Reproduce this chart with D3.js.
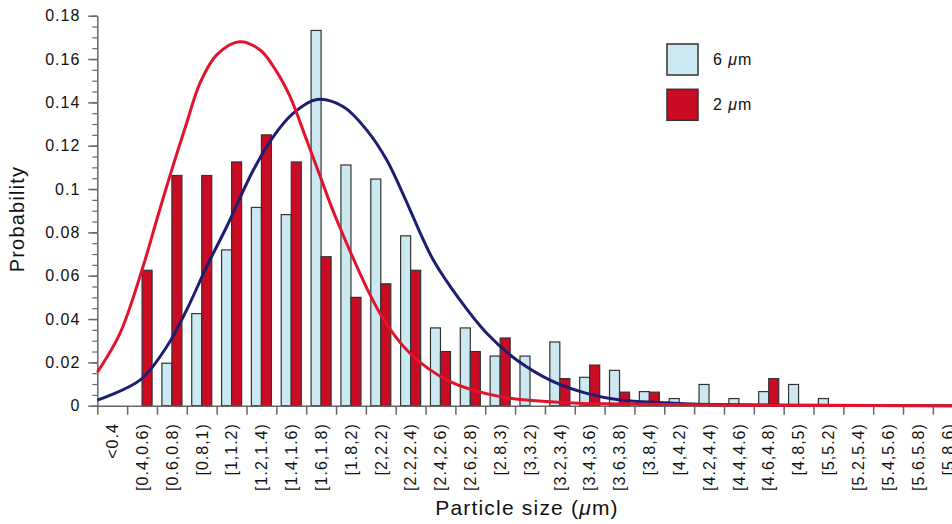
<!DOCTYPE html>
<html>
<head>
<meta charset="utf-8">
<script src="https://cdn.jsdelivr.net/npm/d3@7"></script>
<style>
  html, body { margin: 0; padding: 0; background: #fff; overflow: hidden; }
  svg { display: block; }
  text { font-family: "Liberation Sans", Arial, Helvetica, sans-serif; fill: #111; }
</style>
</head>
<body>
<svg id="chart" width="952" height="524"></svg>
<script>
// ---------------- data ----------------
const categories = ["<0.4","[0.4,0.6)","[0.6,0.8)","[0.8,1)","[1,1.2)","[1.2,1.4)","[1.4,1.6)",
  "[1.6,1.8)","[1.8,2)","[2,2.2)","[2.2,2.4)","[2.4,2.6)","[2.6,2.8)","[2.8,3)","[3,3.2)",
  "[3.2,3.4)","[3.4,3.6)","[3.6,3.8)","[3.8,4)","[4,4.2)","[4.2,4.4)","[4.4,4.6)","[4.6,4.8)",
  "[4.8,5)","[5,5.2)","[5.2,5.4)","[5.4,5.6)","[5.6,5.8)","[5.8,6)"];

const series = ["6 μm", "2 μm"];

const values6 = [0, 0, 0.0196, 0.0425, 0.0719, 0.0915, 0.0882, 0.1732, 0.1111, 0.1046, 0.0784,
  0.0359, 0.0359, 0.0229, 0.0229, 0.0294, 0.0131, 0.0163, 0.0065, 0.0033, 0.0098, 0.0033,
  0.0065, 0.0098, 0.0033, 0, 0, 0, 0];

const values2 = [0, 0.0625, 0.10625, 0.10625, 0.1125, 0.125, 0.1125, 0.06875, 0.05, 0.05625,
  0.0625, 0.025, 0.025, 0.03125, 0, 0.0125, 0.01875, 0.00625, 0.00625, 0, 0, 0, 0.0125,
  0, 0, 0, 0, 0, 0];

// fitted curves: particle size (µm) and probability
const curve6Size = [0.2, 0.486, 0.665, 0.799, 0.933, 1.067, 1.246, 1.38, 1.514, 1.671, 1.849,
  2.006, 2.14, 2.249, 2.452, 2.63, 2.81, 3.011, 3.256, 3.48, 3.704, 4.016, 4.192, 5.0, 6.0];
const curve6Prob = [0.0026, 0.0118, 0.0272, 0.0442, 0.0642, 0.0826, 0.1088, 0.1242, 0.135,
  0.1413, 0.138, 0.1272, 0.1134, 0.0977, 0.0672, 0.0488, 0.0334, 0.0211, 0.0111, 0.0057,
  0.0026, 0.0014, 0.0008, 0.0002, 0];

const curve2Size = [0.2, 0.352, 0.498, 0.598, 0.687, 0.799, 0.888, 1.0, 1.152, 1.291, 1.402,
  1.492, 1.603, 1.693, 1.805, 2.095, 2.296, 2.564, 2.9, 3.346, 3.704, 4.5, 6.0];
const curve2Prob = [0.0154, 0.0334, 0.0623, 0.0857, 0.1062, 0.1305, 0.1489, 0.1619, 0.168,
  0.1642, 0.1542, 0.1426, 0.1226, 0.106, 0.0857, 0.0426, 0.0242, 0.0111, 0.0042, 0.0014,
  0.0008, 0.0002, 0];

const yTickValues = [0, 0.02, 0.04, 0.06, 0.08, 0.1, 0.12, 0.14, 0.16, 0.18];
const yTickLabels = ["0", "0.02", "0.04", "0.06", "0.08", "0.1", "0.12", "0.14", "0.16", "0.18"];
const sizeEdges = [0.2, 0.4, 0.6, 0.8, 1.0, 1.2, 1.4, 1.6, 1.8, 2.0, 2.2, 2.4, 2.6, 2.8, 3.0,
  3.2, 3.4, 3.6, 3.8, 4.0, 4.2, 4.4, 4.6, 4.8, 5.0, 5.2, 5.4, 5.6, 5.8, 6.0];

const xTitle = "Particle size (";
const yTitle = "Probability";

// ---------------- layout ----------------
const svg = d3.select("#chart");
const plotLeft = 97.3, plotRight = 962.7, plotTop = 15.7, plotBottom = 405.7;

const colors = { fill6: "#cce9f1", fill2: "#c90b24", line6: "#1e1e70", line2: "#e2132c",
  axis: "#666", barStroke: "#333" };

const x = d3.scaleBand().domain(categories).range([plotLeft, plotRight]).paddingInner(0).paddingOuter(0);
const xs = d3.scaleLinear().domain([0.2, 6.0]).range([plotLeft, plotRight]);
const xSub = d3.scaleBand().domain(series).range([0, x.bandwidth()]).paddingInner(0).paddingOuter(0.49);
const y = d3.scaleLinear().domain([0, 0.18]).range([plotBottom, plotTop]);

// ---------------- bars ----------------
const barData = [];
categories.forEach((c, i) => {
  barData.push({ cat: c, s: series[0], v: values6[i], fill: colors.fill6 });
  barData.push({ cat: c, s: series[1], v: values2[i], fill: colors.fill2 });
});
svg.append("g").selectAll("rect")
  .data(barData.filter(d => d.v > 0))
  .join("rect")
  .attr("x", d => x(d.cat) + xSub(d.s))
  .attr("y", d => y(d.v))
  .attr("width", xSub.bandwidth())
  .attr("height", d => y(0) - y(d.v))
  .attr("fill", d => d.fill)
  .attr("stroke", colors.barStroke)
  .attr("stroke-width", 1.2);

// ---------------- axes ----------------
const yMinor = svg.append("g").attr("transform", `translate(${plotLeft},0)`)
  .call(d3.axisLeft(y).tickValues(d3.range(0, 0.1801, 0.005)).tickSize(5).tickFormat(""));
yMinor.select(".domain").remove();
yMinor.selectAll("line").attr("stroke", colors.axis).attr("stroke-width", 1.2);

const yAxis = svg.append("g").attr("transform", `translate(${plotLeft},0)`)
  .call(d3.axisLeft(y).tickValues(yTickValues).tickSize(9).tickSizeOuter(0)
    .tickFormat((d, i) => yTickLabels[i]));
yAxis.select(".domain").attr("stroke", colors.axis).attr("stroke-width", 1.5);
yAxis.selectAll(".tick line").attr("stroke", colors.axis).attr("stroke-width", 1.5);
yAxis.selectAll(".tick text").attr("x", -17).attr("font-size", 16)
  .attr("letter-spacing", "1px").attr("fill", "#111")
  .style("font-family", '"Liberation Sans", Arial, sans-serif');

const xAxis = svg.append("g").attr("transform", `translate(0,${plotBottom})`)
  .call(d3.axisBottom(xs).tickValues(sizeEdges).tickSize(9).tickSizeOuter(0).tickFormat(""));
xAxis.select(".domain").attr("stroke", colors.axis).attr("stroke-width", 1.5);
xAxis.selectAll(".tick line").attr("stroke", colors.axis).attr("stroke-width", 1.5);

const xLab = svg.append("g").attr("transform", `translate(0,${plotBottom})`)
  .call(d3.axisBottom(x).tickSize(0).tickSizeOuter(0));
xLab.select(".domain").remove();
xLab.selectAll(".tick text")
  .attr("transform", "rotate(-90)")
  .attr("text-anchor", "end")
  .attr("x", -17.5).attr("y", 0).attr("dy", "0.36em")
  .attr("font-size", 16).attr("letter-spacing", "1px").attr("fill", "#111")
  .style("font-family", '"Liberation Sans", Arial, sans-serif');

// ---------------- curves ----------------
const line = d3.line().x(d => xs(d[0])).y(d => y(d[1])).curve(d3.curveCatmullRom.alpha(0.5));
svg.append("path")
  .attr("d", line(curve6Size.map((s, i) => [s, curve6Prob[i]])))
  .attr("fill", "none").attr("stroke", colors.line6).attr("stroke-width", 3);
svg.append("path")
  .attr("d", line(curve2Size.map((s, i) => [s, curve2Prob[i]])))
  .attr("fill", "none").attr("stroke", colors.line2).attr("stroke-width", 3);

// ---------------- titles ----------------
const xt = svg.append("text").attr("x", 527).attr("y", 515).attr("text-anchor", "middle")
  .attr("font-size", 21).attr("letter-spacing", "1.2px");
xt.append("tspan").text(xTitle);
xt.append("tspan").attr("font-style", "italic").text("μ");
xt.append("tspan").text("m)");

svg.append("text").attr("transform", "translate(24,219) rotate(-90)")
  .attr("text-anchor", "middle").attr("font-size", 20).attr("letter-spacing", "1.2px")
  .text(yTitle);

// ---------------- legend ----------------
const legFills = [colors.fill6, colors.fill2];
const leg = svg.append("g");
series.forEach((s, i) => {
  const g = leg.append("g").attr("transform", `translate(667,${44 + i * 45.3})`);
  g.append("rect").attr("width", 31).attr("height", 31)
    .attr("fill", legFills[i]).attr("stroke", "#333").attr("stroke-width", 1.5);
  const t = g.append("text").attr("x", 46).attr("y", 21).attr("font-size", 16)
    .attr("letter-spacing", "1px");
  const parts = s.split(" ");
  t.append("tspan").text(parts[0] + " ");
  t.append("tspan").attr("font-style", "italic").text("μ");
  t.append("tspan").text("m");
});
</script>
</body>
</html>
